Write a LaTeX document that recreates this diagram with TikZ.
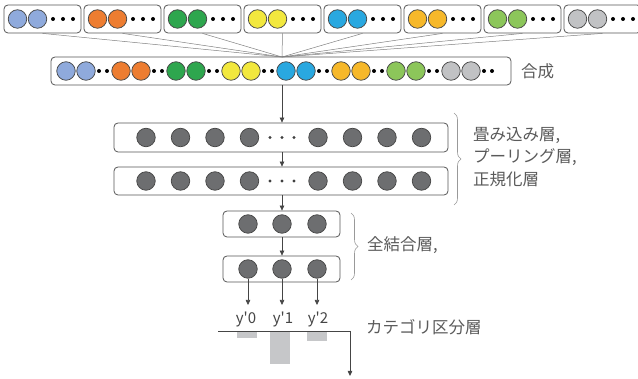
\documentclass[tikz,border=0pt]{standalone}
\usepackage{fontspec}
\setmainfont{Noto Sans CJK JP}
\newfontfamily\outfont{Noto Sans CJK JP}
\usetikzlibrary{arrows.meta,decorations.pathreplacing}

\definecolor{cA}{HTML}{8FAADC}
\definecolor{cB}{HTML}{ED7D31}
\definecolor{cC}{HTML}{2EA64E}
\definecolor{cD}{HTML}{F2E83E}
\definecolor{cE}{HTML}{29A8E0}
\definecolor{cF}{HTML}{F6B82A}
\definecolor{cG}{HTML}{8CC65A}
\definecolor{cH}{HTML}{C1C2C4}
\definecolor{unitgray}{HTML}{6D6E70}
\definecolor{edge}{HTML}{454545}
\definecolor{boxline}{HTML}{555555}
\definecolor{txt}{HTML}{5A5A5A}
\definecolor{bargray}{HTML}{C6C7C9}

\tikzset{
  layerbox/.style={draw=boxline, line width=0.8pt, rounded corners=4pt, fill=white, inner sep=0pt},
  unit/.style={circle, draw=edge, line width=0.7pt, fill=unitgray, minimum size=18.5pt, inner sep=0pt},
  cunit/.style={circle, draw=edge, line width=0.7pt, fill=#1, minimum size=18.5pt, inner sep=0pt},
  feed/.style={draw=gray, line width=0.5pt},
  flow/.style={draw=edge, line width=0.6pt, -{Triangle[length=5pt,width=4.5pt]}},
  brace/.style={draw=gray!80, line width=0.6pt, decorate, decoration={brace, amplitude=7pt}},
  label/.style={text=txt, font=\fontsize{16.5pt}{22.5pt}\selectfont, inner sep=0pt},
  ylabel/.style={text=edge, font=\outfont\fontsize{15pt}{18pt}\selectfont, inner sep=0pt},
}

\begin{document}
\begin{tikzpicture}[x=1pt, y=-1pt]
\useasboundingbox (0,0) rectangle (638,379);

% input groups, one box per colour
\foreach \c [count=\i from 0] in {cA,cB,cC,cD,cE,cF,cG,cH} {
  \pgfmathsetmacro{\lx}{4+80*\i}
  \node[layerbox, minimum width=77pt, minimum height=28pt] (in\i) at (\lx+38.5,19) {};
  \node[cunit=\c] (in\i a) at (\lx+13.5,19) {};
  \node[cunit=\c] (in\i b) at (\lx+33.5,19) {};
  \foreach \d in {49,59,69} \fill[black] (\lx+\d,19) circle (2pt);
}

% merged row
\node[layerbox, minimum width=460pt, minimum height=28pt] (merge) at (281,71) {};
\foreach \c [count=\i from 0] in {cA,cB,cC,cD,cE,cF,cG,cH} {
  \pgfmathsetmacro{\gx}{66+55*\i}
  \node[cunit=\c] (m\i a) at (\gx,71) {};
  \node[cunit=\c] (m\i b) at (\gx+20,71) {};
  \foreach \d in {33,41} \fill[black] (\gx+\d,71) circle (2pt);
}
\node[label, anchor=west] (mergetxt) at (521,71) {合成};

% feeds into the merged row
\coordinate (hub) at (282,57);
\foreach \i in {0,...,7} \draw[feed] (in\i.south) -- (hub);

% convolution / pooling / normalisation layers
\node[layerbox, minimum width=334pt, minimum height=29pt] (conv1) at (281,137.5) {};
\node[layerbox, minimum width=334pt, minimum height=28pt] (conv2) at (281,181) {};
\foreach \r/\y in {1/137.5,2/181} {
  \foreach \k in {0,...,3} \node[unit] (c\r l\k) at (146+34.5*\k,\y) {};
  \foreach \k in {0,...,3} \node[unit] (c\r r\k) at (318+34.5*\k,\y) {};
  \foreach \d in {270,282,294} \fill[black!75] (\d,\y) circle (1.7pt);
}

% fully connected layers
\node[layerbox, minimum width=117pt, minimum height=26pt] (fc1) at (281.5,224) {};
\node[layerbox, minimum width=117pt, minimum height=26pt] (fc2) at (281.5,269) {};
\foreach \k/\x in {0/248,1/282,2/317} {
  \node[unit] (f\k) at (\x,224) {};
  \node[unit] (o\k) at (\x,269) {};
}

% data flow between layers
\draw[flow] (merge.south -| hub) -- (conv1.north -| hub);
\draw[flow] (conv1.south -| hub) -- (conv2.north -| hub);
\draw[flow] (conv2.south -| hub) -- (fc1.north -| hub);
\draw[flow] (fc1.south -| hub) -- (fc2.north -| hub);

% braces and layer names
\draw[brace] (454,113) -- (454,205);
\node[label, anchor=north west, align=left] (convtxt) at (473,126.5) {畳み込み層,\\プーリング層,\\正規化層};
\draw[brace] (351,213) -- (351,280);
\node[label, anchor=west] (fctxt) at (367,245) {全結合層,};

% outputs
\foreach \k/\x in {0/245,1/282,2/317} {
  \coordinate (out\k) at (o\k.center |- 0,305);
  \draw[flow] (o\k.south) -- (out\k);
  \node[ylabel, anchor=base] (y\k) at (\x+1,324) {y'\k};
}

% category distribution
\coordinate (axL) at (218,331);
\coordinate (axC) at (350,331);
\coordinate (axE) at (350,376);
\fill[bargray] (237,331) rectangle (257,338);
\fill[bargray] (270,331) rectangle (290,364);
\fill[bargray] (307,331) rectangle (327,341);
\draw[edge, line width=0.5pt] (axL) -- (axC);
\draw[flow, line width=0.5pt] (axC) -- (axE);
\node[label, anchor=west] (cattxt) at (366,327) {カテゴリ区分層};
\end{tikzpicture}
\end{document}
